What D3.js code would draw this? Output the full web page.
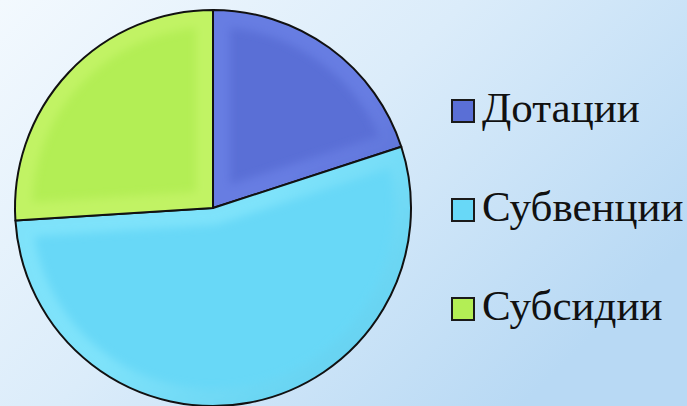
<!DOCTYPE html>
<html>
<head>
<meta charset="utf-8">
<script src="https://cdn.jsdelivr.net/npm/d3@7"></script>
<style>
  html, body { margin: 0; padding: 0; overflow: hidden; }
  #root { width: 687px; height: 406px; }
</style>
</head>
<body>
<div id="root"></div>
<script>
const categories = ["Дотации", "Субвенции", "Субсидии"];
const values = [20, 54, 26];
const colors = ["#5a6fd6", "#68d8f7", "#b3ee55"];
const lightColors = ["#6b82e6", "#86e6fc", "#c6f56a"];
const darkColors = ["#4c60c4", "#58c8ea", "#a2e048"];

const width = 687;
const height = 406;

const svg = d3
  .select("#root")
  .append("svg")
  .attr("width", width)
  .attr("height", height)
  .attr("viewBox", [0, 0, width, height]);

const defs = svg.append("defs");

// background gradient
const bg = defs
  .append("linearGradient")
  .attr("id", "bg")
  .attr("x1", "0%")
  .attr("y1", "0%")
  .attr("x2", "100%")
  .attr("y2", "60%");
bg.append("stop").attr("offset", "0%").attr("stop-color", "#f3f9fe");
bg.append("stop").attr("offset", "50%").attr("stop-color", "#dbecfa");
bg.append("stop").attr("offset", "100%").attr("stop-color", "#b8d9f4");

svg
  .append("rect")
  .attr("width", width)
  .attr("height", height)
  .attr("fill", "url(#bg)");

// soft bevel
defs
  .append("filter")
  .attr("id", "soft")
  .append("feGaussianBlur")
  .attr("stdDeviation", 4);

// pie
const cx = 213;
const cy = 208;
const radius = 198;

const pie = d3.pie().sort(null).value((d) => d.value);
const arc = d3.arc().innerRadius(0).outerRadius(radius);
const data = categories.map((c, i) => ({ name: c, value: values[i] }));
const arcs = pie(data);

categories.forEach((c, i) => {
  const g = defs
    .append("linearGradient")
    .attr("id", `bevel${i}`)
    .attr("gradientUnits", "userSpaceOnUse")
    .attr("x1", -radius)
    .attr("y1", -radius)
    .attr("x2", radius)
    .attr("y2", radius);
  g.append("stop").attr("offset", "0%").attr("stop-color", lightColors[i]);
  g.append("stop").attr("offset", "55%").attr("stop-color", lightColors[i]);
  g.append("stop").attr("offset", "100%").attr("stop-color", darkColors[i]);
});

const slice = svg
  .append("g")
  .attr("transform", `translate(${cx},${cy})`)
  .selectAll("g")
  .data(arcs)
  .join("g");

slice
  .append("clipPath")
  .attr("id", (d) => `clip${d.index}`)
  .append("path")
  .attr("d", arc);

slice
  .append("path")
  .attr("d", arc)
  .attr("fill", (d) => colors[d.index]);

// inner bevel band
slice
  .append("g")
  .attr("clip-path", (d) => `url(#clip${d.index})`)
  .append("path")
  .attr("d", arc)
  .attr("fill", "none")
  .attr("stroke", (d) => `url(#bevel${d.index})`)
  .attr("stroke-width", 34)
  .attr("stroke-opacity", 0.75)
  .attr("filter", "url(#soft)");

slice
  .append("path")
  .attr("d", arc)
  .attr("fill", "none")
  .attr("stroke", "#111")
  .attr("stroke-width", 2)
  .attr("stroke-linejoin", "round");

// legend
const legendX = 452;
const legendY = 122;
const legendStep = 99;
const keySize = 22;

const legend = svg
  .append("g")
  .selectAll("g")
  .data(categories)
  .join("g")
  .attr("transform", (d, i) => `translate(${legendX},${legendY + i * legendStep})`);

legend
  .append("rect")
  .attr("x", 0)
  .attr("y", -keySize)
  .attr("width", keySize)
  .attr("height", keySize)
  .attr("fill", (d, i) => colors[i])
  .attr("stroke", "#1a1a1a")
  .attr("stroke-width", 2);

legend
  .append("text")
  .attr("x", keySize + 8)
  .attr("y", 0)
  .attr("font-family", "'Liberation Serif', 'Times New Roman', serif")
  .attr("font-size", 43)
  .attr("fill", "#111")
  .text((d) => d);
</script>
</body>
</html>
